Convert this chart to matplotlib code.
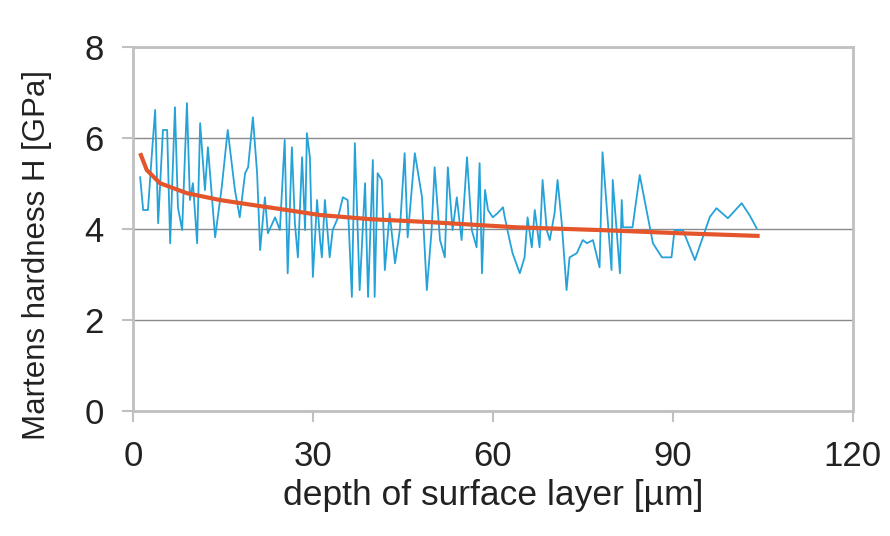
import matplotlib
matplotlib.use('Agg')
import matplotlib.pyplot as plt

depth = [1.2, 1.7, 2.5, 3.2, 3.7, 4.2, 5.0, 5.7, 6.2, 7.0, 7.5, 8.2, 9.0, 9.5, 10.0,
         10.7, 11.2, 12.0, 12.5, 13.7, 14.8, 15.8, 17.0, 17.8, 18.7, 19.2, 20.0, 20.7,
         21.2, 22.0, 22.5, 23.7, 24.5, 25.3, 25.8, 26.5, 27.0, 27.5, 28.2, 28.7, 29.0,
         29.5, 30.0, 30.7, 31.2, 31.5, 32.0, 32.8, 33.3, 34.2, 35.0, 35.8, 36.5, 37.0,
         37.8, 38.7, 39.2, 40.0, 40.3, 40.8, 41.5, 42.0, 42.8, 43.7, 44.5, 45.3, 45.8,
         47.0, 48.2, 49.0, 49.8, 50.3, 51.2, 52.0, 52.5, 53.3, 54.0, 54.8, 55.7, 56.5,
         57.3, 57.8, 58.2, 58.7, 59.2, 60.0, 60.8, 61.7, 62.0, 62.8, 63.3, 64.5, 65.3,
         65.8, 66.5, 67.0, 67.8, 68.3, 69.0, 69.5, 70.3, 70.8, 71.5, 72.3, 72.8, 74.0,
         75.0, 75.7, 76.7, 77.8, 78.3, 79.8, 80.0, 81.2, 81.5, 81.7, 83.3, 84.5, 86.2,
         86.7, 88.2, 89.8, 90.3, 91.7, 93.7, 96.2, 97.3, 99.2, 101.5, 102.8, 104.0]
hardness = [5.14, 4.42, 4.42, 5.74, 6.62, 4.13, 6.18, 6.18, 3.69, 6.68, 4.48, 3.98, 6.77, 4.64, 5.01,
            3.69, 6.33, 4.86, 5.80, 3.82, 4.92, 6.18, 4.86, 4.26, 5.23, 5.36, 6.46, 5.23,
            3.54, 4.70, 3.91, 4.26, 3.98, 5.96, 3.03, 5.80, 4.13, 3.38, 5.58, 3.98, 6.11,
            5.58, 2.95, 4.64, 3.76, 3.38, 4.64, 3.38, 3.98, 4.26, 4.70, 4.64, 2.51, 5.89,
            2.66, 5.01, 2.51, 5.52, 2.51, 5.23, 5.08, 3.10, 4.35, 3.25, 3.98, 5.67, 3.82,
            5.67, 4.70, 2.66, 3.98, 5.36, 3.76, 3.38, 5.36, 3.98, 4.70, 3.76, 5.58, 3.98,
            3.60, 5.45, 3.03, 4.86, 4.42, 4.26, 4.35, 4.48, 4.26, 3.76, 3.47, 3.03, 3.38,
            4.26, 3.60, 4.42, 3.60, 5.08, 3.98, 3.76, 4.35, 5.08, 4.13, 2.66, 3.38, 3.47,
            3.76, 3.69, 3.76, 3.16, 5.69, 3.10, 5.08, 3.03, 4.64, 4.04, 4.04, 5.19, 4.04,
            3.69, 3.38, 3.38, 3.98, 3.98, 3.32, 4.27, 4.46, 4.24, 4.57, 4.31, 4.02]

# trend curve (red)
trend_x = [1.2, 2.3, 4.5, 9.0, 14.5, 20.0, 25.7, 31.2, 39.5, 50.0, 64.0, 77.8, 91.2, 104.5]
trend_y = [5.67, 5.30, 5.01, 4.79, 4.64, 4.53, 4.42, 4.31, 4.22, 4.15, 4.04, 3.98, 3.91, 3.85]

plt.rcParams['font.family'] = ['Liberation Sans', 'DejaVu Sans']

fig = plt.figure(figsize=(8.9, 5.36), dpi=100)
ax = fig.add_axes([0.1494, 0.233, 0.8086, 0.679])

ax.plot(depth, hardness, color='#25a2d8', linewidth=1.3)
ax.plot(trend_x, trend_y, color='#e4552b', linewidth=3, solid_capstyle='butt')

ax.set_xlim(0, 120)
ax.set_ylim(0, 8)
ax.set_xticks([0, 30, 60, 90, 120])
ax.set_yticks([0, 2, 4, 6, 8])
ax.yaxis.grid(True, color='#8a8a8a', linewidth=1)
ax.set_axisbelow(True)
for s in ax.spines.values():
    s.set_color('#c0c0c0')
    s.set_linewidth(2)

ax.tick_params(axis='both', labelsize=25, colors='#c0c0c0', labelcolor='#222222',
               width=1.5, length=8, pad=13)
ax.set_xlabel('depth of surface layer [µm]', fontsize=25.5, color='#222222', labelpad=4)
ax.set_ylabel('Martens hardness H [GPa]', fontsize=22.5, color='#222222')
ax.yaxis.set_label_coords(-0.112, 0.43)

fig.savefig('out.png', dpi=100)
